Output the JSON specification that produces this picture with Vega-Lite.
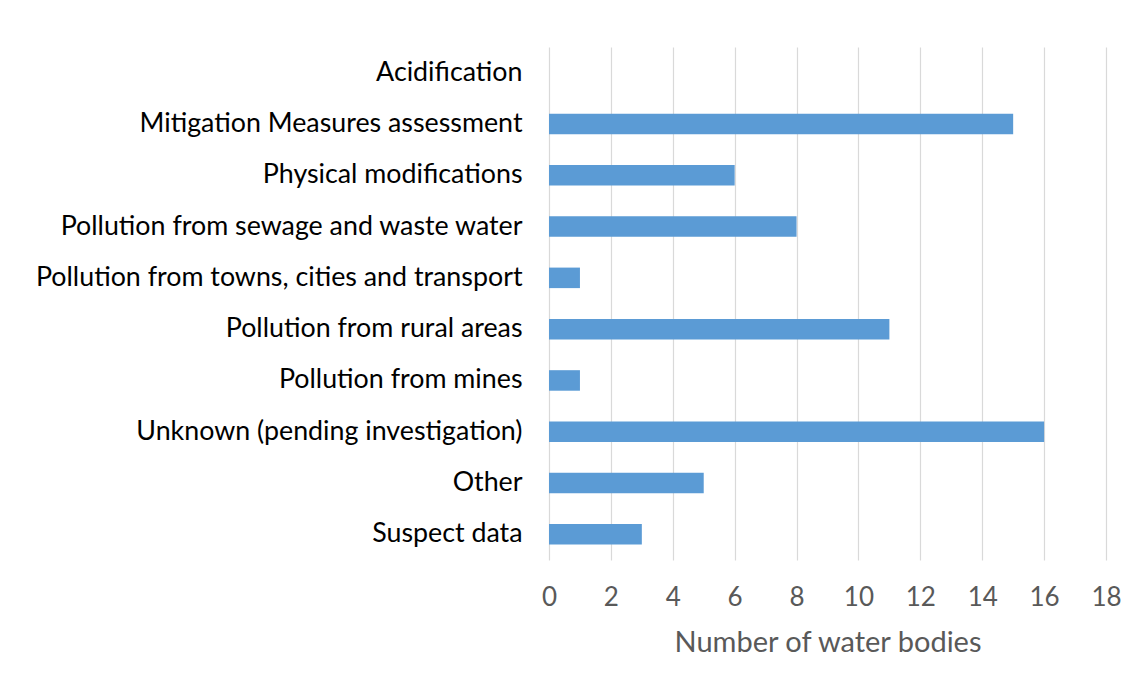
{
  "$schema": "https://vega.github.io/schema/vega-lite/v6.json",
  "width": 557,
  "height": 513,
  "autosize": "none",
  "padding": {"left": 549, "top": 47, "right": 35, "bottom": 133},
  "background": "#ffffff",
  "config": {"view": {"stroke": null}, "font": "Lato"},
  "data": {
    "values": [
      {"cause": "Acidification", "count": 0},
      {"cause": "Mitigation Measures assessment", "count": 15},
      {"cause": "Physical modifications", "count": 6},
      {"cause": "Pollution from sewage and waste water", "count": 8},
      {"cause": "Pollution from towns, cities and transport ", "count": 1},
      {"cause": "Pollution from rural areas", "count": 11},
      {"cause": "Pollution from mines", "count": 1},
      {"cause": "Unknown (pending investigation)", "count": 16},
      {"cause": "Other", "count": 5},
      {"cause": "Suspect data", "count": 3}
    ]
  },
  "mark": {"type": "bar", "color": "#5B9BD5"},
  "encoding": {
    "y": {
      "field": "cause",
      "type": "nominal",
      "sort": null,
      "scale": {"paddingInner": 0.6, "paddingOuter": 0.3},
      "axis": {
        "title": null,
        "domain": false,
        "ticks": false,
        "labelFont": "Lato",
        "labelFontSize": 26.8,
        "labelColor": "#000000",
        "labelPadding": 27,
        "labelLimit": 600
      }
    },
    "x": {
      "field": "count",
      "type": "quantitative",
      "scale": {"domain": [0, 18], "nice": false},
      "axis": {
        "values": [0, 2, 4, 6, 8, 10, 12, 14, 16, 18],
        "title": "Number of water bodies",
        "titleFont": "Lato",
        "titleFontSize": 29,
        "titleFontWeight": "normal",
        "titleColor": "#595959",
        "titlePadding": 18,
        "domain": false,
        "ticks": false,
        "grid": true,
        "gridColor": "#d9d9d9",
        "gridWidth": 1.2,
        "labelFont": "Lato",
        "labelFontSize": 26,
        "labelColor": "#595959",
        "labelPadding": 24,
        "labelFlush": false,
        "labelOverlap": false
      }
    }
  }
}
